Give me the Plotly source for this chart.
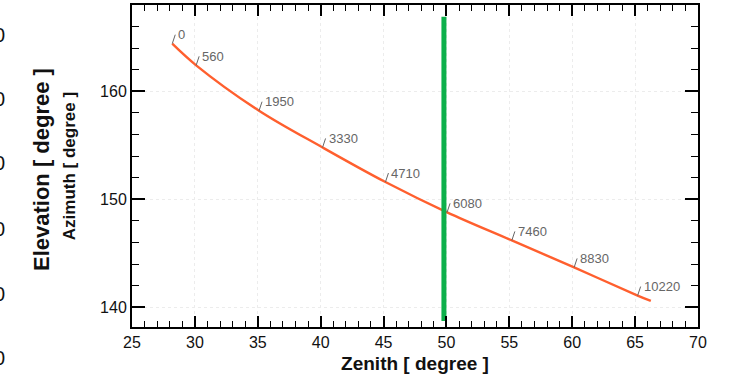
import plotly.graph_objects as go

# Data
time_s = [0, 560, 1950, 3330, 4710, 6080, 7460, 8830, 10220, 10510]
zenith = [28.2, 30.1, 35.1, 40.15, 45.15, 50.05, 55.2, 60.15, 65.2, 66.25]
azimuth = [164.4, 162.4, 158.2, 154.8, 151.6, 148.8, 146.2, 143.7, 141.1, 140.6]
labelled = [True, True, True, True, True, True, True, True, True, False]

marker_zenith = [49.8, 49.8]
marker_azimuth = [138.75, 166.9]

x_ticks = [25, 30, 35, 40, 45, 50, 55, 60, 65, 70]
y_ticks = [140, 150, 160]
ghost_rows_px = [35, 99, 163, 229, 294, 358]

W, H = 730, 379
ML, MR, MT, MB = 132, 32, 5, 52
PW, PH = W - ML - MR, H - MT - MB

FONT = "Liberation Sans, Arial, Helvetica, sans-serif"

fig = go.Figure()
fig.add_trace(go.Scatter(x=zenith, y=azimuth, mode="lines", line=dict(color="#ff5f2e", width=2.4, shape="spline"),
                         hoverinfo="skip", showlegend=False))
fig.add_trace(go.Scatter(x=marker_zenith, y=marker_azimuth, mode="lines", line=dict(color="#0db04b", width=5),
                         hoverinfo="skip", showlegend=False))

ann = []
for t, zx, ay_, show in zip(time_s, zenith, azimuth, labelled):
    if not show:
        continue
    ann.append(dict(x=zx, y=ay_, xref="x", yref="y", text=str(t), showarrow=True, arrowhead=0,
                    arrowwidth=1, arrowcolor="#666666", ax=3, ay=-9, xanchor="left", yanchor="middle",
                    font=dict(family=FONT, size=13, color="#666666"), borderpad=2))

# ghost labels cut off at the left edge
for py in ghost_rows_px:
    ann.append(dict(x=(7 - ML) / PW, y=(MT + PH - py) / PH, xref="paper", yref="paper", text="0",
                    showarrow=False, xanchor="right", yanchor="middle",
                    font=dict(family=FONT, size=20, color="#111111")))

ann.append(dict(x=(41 - ML) / PW, y=(MT + PH - 170) / PH, xref="paper", yref="paper",
                text="<b>Elevation [ degree ]</b>", showarrow=False, textangle=-90,
                xanchor="center", yanchor="middle", font=dict(family=FONT, size=22, color="#111111")))

fig.update_layout(
    width=W, height=H, margin=dict(l=ML, r=MR, t=MT, b=MB, autoexpand=False),
    paper_bgcolor="white", plot_bgcolor="white",
    font=dict(family=FONT, color="#111111"),
    annotations=ann,
    xaxis=dict(range=[25, 70], tickvals=x_ticks, ticks="inside", ticklen=11, tickwidth=1.5, tickcolor="black",
               showline=True, linewidth=2, linecolor="black", mirror="ticks",
               showgrid=True, gridcolor="#ececec", griddash="dot", gridwidth=1, zeroline=False,
               tickfont=dict(size=16, color="#111111"),
               minor=dict(dtick=1, ticks="inside", ticklen=6, tickwidth=1.2, tickcolor="black", showgrid=False),
               title=dict(text="<b>Zenith [ degree ]</b>", font=dict(size=19, color="#111111"), standoff=6)),
    yaxis=dict(range=[138.19, 167.98], tickvals=y_ticks, ticks="inside", ticklen=13, tickwidth=1.5, tickcolor="black",
               showline=True, linewidth=2, linecolor="black", mirror="ticks",
               showgrid=True, gridcolor="#ececec", griddash="dot", gridwidth=1, zeroline=False,
               tickfont=dict(size=16, color="#111111"),
               minor=dict(dtick=2, ticks="inside", ticklen=7, tickwidth=1.2, tickcolor="black", showgrid=False),
               title=dict(text="<b>Azimuth [ degree ]</b>", font=dict(size=17, color="#111111"), standoff=20)),
)

fig.write_html("out.html")
